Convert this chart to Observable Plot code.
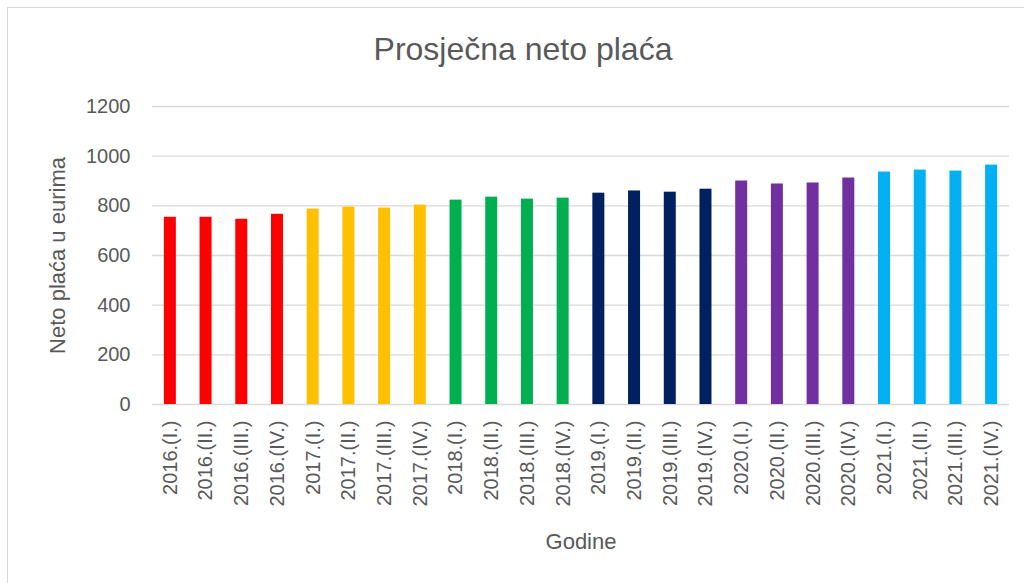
<!DOCTYPE html>
<html>
<head>
<meta charset="utf-8">
<script src="https://cdn.jsdelivr.net/npm/d3@7"></script>
<script src="https://cdn.jsdelivr.net/npm/@observablehq/plot@0.6"></script>
<style>
  html, body { margin: 0; padding: 0; background: #fff; }
  body { width: 1024px; height: 583px; overflow: hidden; position: relative;
         font-family: "Liberation Sans", Arial, sans-serif; color: #595959; }
  #frame { position: absolute; left: 7px; top: 7px; width: 1030px; height: 590px;
           border: 1px solid #d9d9d9; box-sizing: border-box; }
  #title { position: absolute; left: 0; top: 0; width: 1024px; height: 80px; }
  #title div { position: absolute; left: 0; width: 1046px; text-align: center;
               top: 33px; font-size: 32px; line-height: 32px; color: #595959; }
  #chart { position: absolute; left: 0; top: 80px; }
</style>
</head>
<body>
<div id="frame"></div>
<div id="title"><div>Prosječna neto plaća</div></div>
<div id="chart"></div>
<script>
const years = ["2016", "2017", "2018", "2019", "2020", "2021"];
const quarters = ["I.", "II.", "III.", "IV."];
const yearColors = ["#FF0000", "#FFC000", "#00B050", "#002060", "#7030A0", "#00B0F0"];
const values = [
  754, 754, 746, 766,
  787, 795, 791, 803,
  823, 835, 827, 831,
  851, 860, 855, 867,
  900, 888, 892, 912,
  936, 944, 940, 964
];
const yTicks = [0, 200, 400, 600, 800, 1000, 1200];

const data = [];
years.forEach((y, i) => quarters.forEach((q, j) => {
  data.push({label: `${y}.(${q})`, year: y, value: values[i * 4 + j]});
}));
const labels = data.map(d => d.label);

const chart = Plot.plot({
  width: 1024,
  height: 503,
  marginTop: 26,
  marginBottom: 179,
  marginLeft: 152,
  marginRight: 15,
  style: {fontFamily: "'Liberation Sans', Arial, sans-serif", color: "#595959", background: "transparent"},
  x: {domain: labels, paddingInner: 0.664, paddingOuter: 0.332, round: false, label: null},
  y: {domain: [0, 1200], label: null},
  color: {domain: years, range: yearColors},
  marks: [
    Plot.gridY(yTicks, {stroke: "#d9d9d9", strokeOpacity: 1, strokeWidth: 1.3}),
    Plot.barY(data, {x: "label", y: "value", fill: "year"}),
    Plot.axisY(yTicks, {tickSize: 0, tickPadding: 22, fontSize: 20, fill: "#595959", label: null, tickFormat: d => String(d)}),
    Plot.axisX({tickSize: 0, tickPadding: 16, tickRotate: -90, fontSize: 20, fill: "#595959", label: null}),
    Plot.text(["Neto plaća u eurima"], {frameAnchor: "left", rotate: -90, dx: -88, textAnchor: "middle", fontSize: 22, fill: "#595959", lineAnchor: "bottom"}),
    Plot.text(["Godine"], {frameAnchor: "bottom", dy: 144, fontSize: 22, fill: "#595959", lineAnchor: "bottom"})
  ]
});
document.getElementById("chart").appendChild(chart);
</script>
</body>
</html>
